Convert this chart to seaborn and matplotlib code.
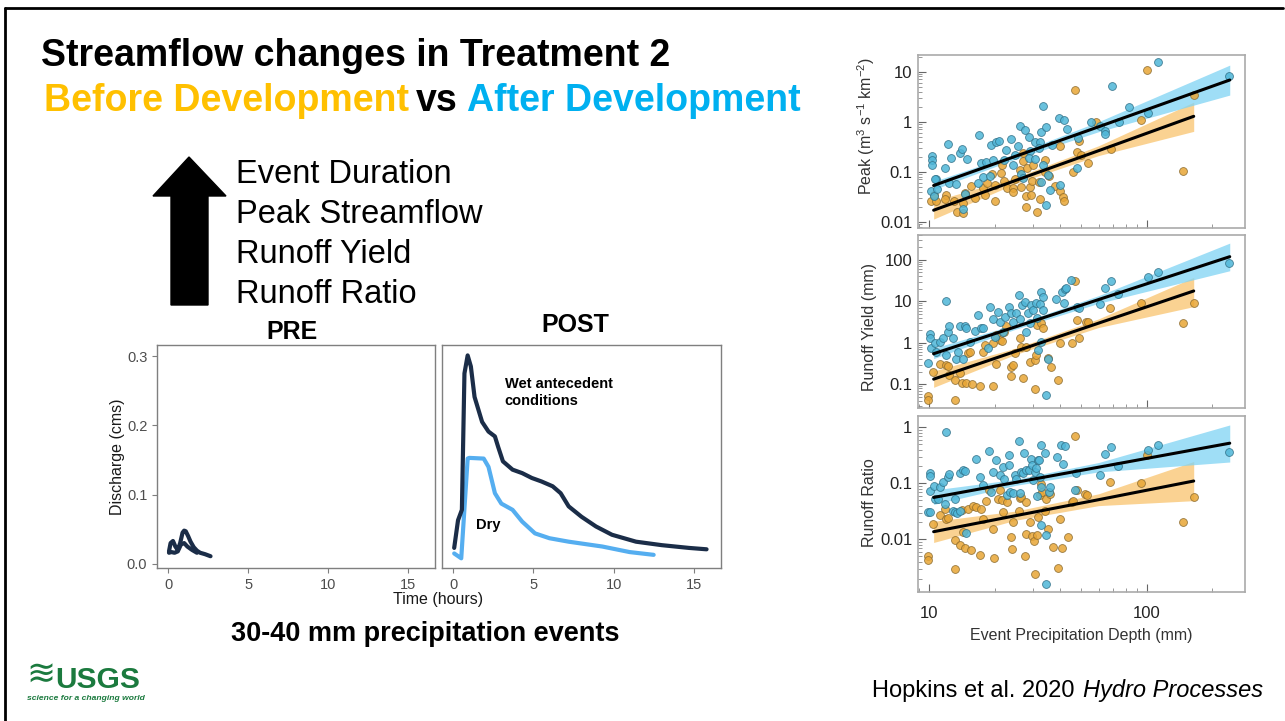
import matplotlib
matplotlib.use("Agg")
import matplotlib.pyplot as plt
import matplotlib.ticker as mticker
from matplotlib.patches import Polygon
import seaborn as sns

sns.set_style("ticks")
plt.rcParams["font.family"] = ["Liberation Sans", "DejaVu Sans"]
plt.rcParams["mathtext.default"] = "regular"
plt.rcParams["text.color"] = "black"

W, H = 1285, 721

# ---- hydrographs (30-40 mm events) ----
pre_a_t = [0.05, 0.15, 0.3, 0.45, 0.6, 0.75, 0.9, 1.0, 1.1, 1.25, 1.4, 1.6, 1.8, 2.0, 2.3, 2.65]
pre_a_q = [0.018, 0.03, 0.033, 0.025, 0.02, 0.03, 0.045, 0.048, 0.047, 0.04, 0.032, 0.024, 0.019, 0.016, 0.014, 0.011]
pre_b_t = [0.05, 0.2, 0.4, 0.6, 0.8, 1.0, 1.2, 1.5, 1.8]
pre_b_q = [0.016, 0.017, 0.016, 0.018, 0.028, 0.03, 0.025, 0.02, 0.016]
wet_t = [0.06, 0.3, 0.54, 0.7, 0.9, 1.1, 1.33, 1.8, 2.2, 2.6, 2.8, 3.1, 3.7, 4.3, 4.9, 5.5,
         6.2, 6.7, 7.2, 8.0, 8.9, 9.9, 11.4, 13.0, 14.7, 15.8]
wet_q = [0.023, 0.063, 0.078, 0.275, 0.301, 0.285, 0.241, 0.205, 0.191, 0.184, 0.169, 0.148, 0.136,
         0.131, 0.124, 0.119, 0.112, 0.102, 0.083, 0.068, 0.054, 0.042, 0.032, 0.027, 0.023, 0.021]
dry_t = [0.06, 0.5, 0.9, 1.0, 1.9, 2.2, 2.6, 3.0, 3.7, 4.3, 5.1, 6.0, 7.2, 9.3, 11.0, 12.5]
dry_q = [0.015, 0.008, 0.152, 0.153, 0.152, 0.14, 0.102, 0.087, 0.078, 0.061, 0.044, 0.037,
         0.032, 0.025, 0.017, 0.013]
hyd_xticks = [0, 5, 10, 15]
hyd_yticks = [0.0, 0.1, 0.2, 0.3]
hyd_ylabels = ["0.0", "0.1", "0.2", "0.3"]

# ---- Hopkins et al. 2020 scatter panels (after = blue, before = orange) ----
peak_after_x = [10.3, 10.3, 10.3, 10.2, 10.5, 10.8, 10.9, 11.9, 12.2, 12.6,
                12.4, 13.3, 13.8, 14.2, 14.6, 14.9, 14.3, 17.0, 17.4, 18.2,
                17.7, 16.8, 19.0, 19.3, 20.2, 20.9, 19.7, 22.1, 22.6, 23.9,
                24.8, 24.3, 25.6, 26.2, 26.5, 27.7, 28.8, 29.2, 28.8, 30.5,
                32.2, 32.8, 33.3, 32.0, 34.5, 30.5, 33.5, 35.8, 35.0, 32.8,
                34.5, 36.7, 39.3, 41.6, 43.0, 48.2, 47.7, 39.8, 27.0, 10.7,
                55.6, 60.7, 64.0, 64.5, 69.3, 74.5, 83.0, 101, 113, 238]
peak_after_y = [0.205, 0.17, 0.138, 0.041, 0.032, 0.072, 0.045, 0.12, 0.36, 0.19,
                0.06, 0.057, 0.24, 0.28, 0.036, 0.18, 0.018, 0.53, 0.15, 0.155,
                0.08, 0.06, 0.081, 0.34, 0.40, 0.41, 0.17, 0.17, 0.27, 0.45,
                0.22, 0.138, 0.33, 0.81, 0.09, 0.67, 0.5, 0.26, 0.19, 0.39,
                0.40, 0.61, 2.05, 0.295, 0.78, 0.176, 0.138, 0.044, 0.087, 0.062,
                0.022, 0.34, 1.2, 1.06, 0.72, 0.48, 0.12, 0.055, 0.075, 0.07,
                0.97, 0.81, 0.64, 0.58, 5.2, 0.99, 2.0, 1.5, 15.8, 8.2]
peak_before_x = [10.2, 10.8, 10.5, 12.0, 11.9, 13.0, 13.4, 14.3, 14.3, 14.6,
                 15.6, 16.2, 17.7, 18.0, 18.5, 19.5, 20.0, 20.0, 21.5, 21.7,
                 22.0, 22.9, 24.8, 24.3, 24.3, 26.5, 26.2, 27.0, 28.2, 29.0,
                 28.0, 27.8, 29.8, 29.5, 30.0, 32.0, 32.2, 31.3, 33.9, 34.2,
                 35.5, 37.7, 39.8, 40.0, 41.2, 41.5, 47.7, 49.9, 45.8, 27.0,
                 46.6, 49.0, 53.6, 58.6, 68.5, 94.0, 100, 146, 164]
peak_before_y = [0.026, 0.026, 0.034, 0.035, 0.028, 0.026, 0.016, 0.015, 0.024, 0.038,
                 0.051, 0.03, 0.047, 0.035, 0.06, 0.09, 0.026, 0.055, 0.094, 0.138,
                 0.064, 0.047, 0.07, 0.048, 0.04, 0.05, 0.109, 0.16, 0.12, 0.049,
                 0.032, 0.0195, 0.064, 0.035, 0.138, 0.062, 0.028, 0.016, 0.1, 0.17,
                 0.083, 0.053, 0.32, 0.041, 0.031, 0.026, 0.245, 0.22, 0.1, 0.235,
                 4.2, 0.41, 0.151, 1.0, 0.29, 1.08, 11.0, 0.105, 3.4]

yield_after_x = [9.9, 10.1, 10.1, 10.2, 10.6, 10.8, 11.2, 11.6, 12.0, 12.2,
                 12.4, 12.9, 13.3, 13.6, 13.8, 14.3, 14.6, 14.8, 15.4, 16.2,
                 16.7, 17.4, 17.7, 18.6, 19.1, 19.7, 20.0, 20.7, 21.2, 21.8,
                 22.4, 23.4, 23.8, 24.3, 25.2, 25.8, 26.2, 26.8, 27.5, 28.5,
                 29.0, 29.5, 30.0, 31.1, 31.3, 32.2, 32.8, 33.3, 33.5, 34.3,
                 35.1, 31.6, 32.8, 28.0, 38.4, 40.9, 42.0, 42.7, 41.5, 44.9,
                 47.6, 12.0, 48.6, 60.7, 64.0, 68.6, 73.7, 101, 112, 238]
yield_after_y = [0.32, 1.6, 1.34, 0.74, 0.97, 0.61, 1.07, 1.29, 10.3, 1.87,
                 2.5, 1.29, 0.42, 0.61, 2.5, 0.42, 2.5, 2.25, 1.07, 1.9,
                 4.7, 2.25, 2.25, 0.74, 7.5, 3.8, 1.4, 5.5, 3.25, 1.87,
                 4.3, 7.5, 5.2, 3.25, 5.2, 14.5, 3.8, 8.2, 9.7, 5.2,
                 3.0, 8.2, 6.2, 9.0, 3.9, 8.5, 16.5, 13.0, 6.2, 0.057,
                 0.42, 0.67, 1.07, 1.87, 11.7, 16.5, 20.0, 20.7, 9.0, 33.0,
                 7.5, 0.51, 6.8, 8.5, 21.5, 31.0, 14.8, 38.0, 52.0, 83.0]
yield_before_x = [9.9, 9.9, 10.4, 11.2, 12.0, 12.2, 12.4, 13.1, 13.1, 13.8,
                  14.1, 14.8, 15.1, 15.8, 15.4, 17.1, 17.7, 18.0, 19.7, 19.7,
                  20.4, 21.2, 21.6, 22.0, 22.6, 23.8, 23.8, 24.7, 26.1, 26.5,
                  27.0, 28.0, 29.0, 30.5, 30.8, 31.1, 31.3, 32.8, 33.5, 35.1,
                  36.4, 39.1, 39.8, 45.4, 47.6, 52.7, 24.3, 20.2, 46.6, 48.6,
                  53.6, 68.0, 94.0, 146, 164]
yield_before_y = [0.053, 0.042, 0.20, 0.31, 0.29, 0.28, 0.168, 0.127, 0.041, 0.185,
                  0.11, 0.11, 0.56, 0.105, 0.61, 0.093, 0.61, 0.89, 0.093, 0.97,
                  1.55, 1.18, 1.13, 1.87, 2.55, 0.26, 0.16, 0.56, 1.29, 0.81,
                  0.14, 0.81, 0.35, 0.077, 0.38, 0.51, 2.7, 2.95, 2.25, 0.44,
                  0.26, 0.127, 0.97, 0.97, 3.5, 3.25, 0.29, 0.31, 31.0, 1.33,
                  3.25, 7.1, 9.0, 2.96, 9.3]

ratio_after_x = [10.1, 10.1, 9.9, 10.1, 10.1, 10.5, 10.6, 11.0, 11.2, 11.6,
                 11.9, 12.2, 12.4, 12.9, 13.1, 13.2, 13.5, 13.8, 13.8, 14.3,
                 14.6, 14.8, 16.5, 17.1, 17.7, 18.9, 19.3, 19.7, 20.4, 21.2,
                 21.8, 22.0, 22.8, 23.2, 23.4, 23.6, 24.3, 24.7, 25.2, 25.8,
                 26.1, 26.5, 27.0, 27.3, 28.0, 28.8, 29.5, 29.8, 30.0, 30.8,
                 31.1, 31.3, 31.6, 32.0, 32.2, 32.5, 32.8, 32.8, 33.9, 34.5,
                 35.5, 35.8, 38.7, 40.5, 41.2, 42.0, 47.4, 34.3, 12.0, 47.0,
                 64.0, 60.7, 68.6, 73.7, 101, 112, 238]
ratio_after_y = [0.155, 0.135, 0.031, 0.031, 0.072, 0.09, 0.052, 0.052, 0.086, 0.106,
                 0.043, 0.13, 0.147, 0.032, 0.052, 0.031, 0.03, 0.15, 0.032, 0.17,
                 0.165, 0.013, 0.275, 0.128, 0.092, 0.37, 0.07, 0.16, 0.265, 0.14,
                 0.195, 0.12, 0.063, 0.215, 0.315, 0.07, 0.066, 0.14, 0.12, 0.56,
                 0.066, 0.16, 0.15, 0.35, 0.17, 0.17, 0.275, 0.21, 0.113, 0.16,
                 0.19, 0.06, 0.265, 0.26, 0.13, 0.49, 0.086, 0.018, 0.35, 0.0118,
                 0.07, 0.086, 0.30, 0.48, 0.225, 0.46, 0.155, 0.0016, 0.82, 0.075,
                 0.34, 0.14, 0.45, 0.2, 0.39, 0.48, 0.36]
ratio_before_x = [9.9, 9.9, 10.4, 11.2, 11.9, 12.0, 12.2, 13.1, 13.8, 14.1,
                  14.6, 14.3, 15.1, 15.6, 15.9, 16.5, 17.1, 17.4, 17.7, 18.2,
                  18.9, 19.7, 19.8, 20.7, 21.2, 21.6, 22.8, 23.8, 24.1, 24.3,
                  25.8, 26.1, 26.5, 27.5, 27.8, 28.0, 29.0, 29.8, 30.2, 31.3,
                  31.6, 32.2, 32.8, 33.1, 33.9, 34.5, 35.1, 35.8, 37.1, 39.1,
                  39.8, 40.9, 45.4, 47.6, 51.8, 43.4, 30.8, 13.1, 21.8,
                  46.6, 53.3, 45.7, 68.0, 94.0, 100, 146, 164]
ratio_before_y = [0.005, 0.0042, 0.019, 0.027, 0.035, 0.023, 0.024, 0.0096, 0.0078, 0.034,
                  0.007, 0.0135, 0.035, 0.0064, 0.039, 0.038, 0.0052, 0.035, 0.023, 0.048,
                  0.075, 0.015, 0.0047, 0.053, 0.075, 0.05, 0.046, 0.011, 0.0068, 0.02,
                  0.032, 0.055, 0.057, 0.005, 0.0125, 0.046, 0.02, 0.0115, 0.0095, 0.012,
                  0.025, 0.061, 0.098, 0.07, 0.032, 0.052, 0.0152, 0.065, 0.0074, 0.0031,
                  0.023, 0.0071, 0.046, 0.075, 0.064, 0.011, 0.0024, 0.0029, 0.031,
                  0.70, 0.062, 0.049, 0.107, 0.1, 0.32, 0.0207, 0.058]

# fitted log-log regressions with confidence bands (read at four depths)
fit_after_x = [10.5, 25, 60, 240]
fit_before_x = [10.5, 25, 60, 164]
peak_fit_after = [0.053, 0.204, 0.79, 6.8]
peak_lo_after = [0.044, 0.18, 0.63, 3.4]
peak_hi_after = [0.064, 0.23, 1.0, 13.5]
peak_fit_before = [0.017, 0.067, 0.263, 1.28]
peak_lo_before = [0.0113, 0.058, 0.21, 0.64]
peak_hi_before = [0.026, 0.077, 0.33, 2.45]
yield_fit_after = [0.55, 2.45, 11.1, 120]
yield_lo_after = [0.42, 2.15, 9.0, 55]
yield_hi_after = [0.75, 2.8, 13.8, 255]
yield_fit_before = [0.134, 0.63, 3.0, 17.9]
yield_lo_before = [0.085, 0.53, 2.35, 7.5]
yield_hi_before = [0.21, 0.75, 3.8, 38]
ratio_fit_after = [0.056, 0.104, 0.194, 0.52]
ratio_lo_after = [0.042, 0.092, 0.16, 0.24]
ratio_hi_after = [0.076, 0.118, 0.235, 1.1]
ratio_fit_before = [0.0137, 0.0265, 0.051, 0.11]
ratio_lo_before = [0.0088, 0.022, 0.04, 0.049]
ratio_hi_before = [0.021, 0.032, 0.065, 0.245]

peak_ticks, peak_labels = [0.01, 0.1, 1, 10], ["0.01", "0.1", "1", "10"]
yield_ticks, yield_labels = [0.1, 1, 10, 100], ["0.1", "1", "10", "100"]
ratio_ticks, ratio_labels = [0.01, 0.1, 1], ["0.01", "0.1", "1"]
depth_ticks, depth_labels = [10, 100], ["10", "100"]

bullets = ["Event Duration", "Peak Streamflow", "Runoff Yield", "Runoff Ratio"]

NAVY, LIGHT = "#1b2d48", "#55aef0"
BLUE_PT, ORANGE_PT = "#4fb6d8", "#e8a636"
BLUE_BAND, ORANGE_BAND = "#7fd3f3", "#f9c46e"
USGS_GREEN = "#1b7a3e"


def px_rect(l, t, r, b):
    return [l / W, 1 - b / H, (r - l) / W, (b - t) / H]


fig = plt.figure(figsize=(W / 100, H / 100), dpi=100)

# slide layer (text, arrow, frame) in pixel coordinates
bg = fig.add_axes([0, 0, 1, 1])
bg.set_xlim(0, W); bg.set_ylim(H, 0); bg.axis("off")
bg.plot([5, 1283], [8, 8], color="black", lw=2)
bg.plot([5, 5], [8, H], color="black", lw=2)
bg.text(41, 66, "Streamflow changes in Treatment 2", fontsize=27, weight="bold", va="baseline")
bg.text(44, 111, "Before Development", fontsize=27, weight="bold", color="#FFC000", va="baseline")
bg.text(416, 111, "vs", fontsize=27, weight="bold", color="black", va="baseline")
bg.text(467, 111, "After Development", fontsize=27, weight="bold", color="#00B0F0", va="baseline")
bg.add_patch(Polygon([(171, 305), (171, 196), (153, 196), (189, 157), (226, 196), (208, 196), (208, 305)],
                     closed=True, color="black"))
for i, b in enumerate(bullets):
    bg.text(236, 183 + 40 * i, b, fontsize=23.5, va="baseline")
bg.text(292, 339, "PRE", fontsize=18, weight="bold", ha="center", va="baseline")
bg.text(575, 332, "POST", fontsize=18, weight="bold", ha="center", va="baseline")
bg.text(438, 604, "Time (hours)", fontsize=11.5, ha="center", va="baseline", color="#1a1a1a")
bg.text(425, 641, "30-40 mm precipitation events", fontsize=19.5, weight="bold", ha="center", va="baseline")
bg.text(872, 697, "Hopkins et al. 2020 ", fontsize=17, va="baseline")
bg.text(1083, 697, "Hydro Processes", fontsize=17, style="italic", va="baseline")
# USGS identifier
bg.text(41, 685, "≋", fontsize=25, color=USGS_GREEN, ha="center", va="baseline", family="DejaVu Sans")
bg.text(55, 688, "USGS", fontsize=21.5, weight="bold", color=USGS_GREEN, va="baseline")
bg.text(27, 700, "science for a changing world", fontsize=6.1, weight="bold", style="italic",
        color=USGS_GREEN, va="baseline")

# hydrographs
ax_pre = fig.add_axes(px_rect(157, 345, 435, 568))
ax_post = fig.add_axes(px_rect(442, 345, 721, 568), sharey=ax_pre)
sns.lineplot(x=pre_a_t, y=pre_a_q, sort=False, estimator=None, color=NAVY, lw=3, ax=ax_pre)
sns.lineplot(x=pre_b_t, y=pre_b_q, sort=False, estimator=None, color=NAVY, lw=3, ax=ax_pre)
sns.lineplot(x=dry_t, y=dry_q, sort=False, estimator=None, color=LIGHT, lw=3, ax=ax_post)
sns.lineplot(x=wet_t, y=wet_q, sort=False, estimator=None, color=NAVY, lw=3, ax=ax_post)
for ax in (ax_pre, ax_post):
    ax.set_xlim(-0.7, 16.7)
    ax.set_xticks(hyd_xticks)
    ax.tick_params(labelsize=10.5, labelcolor="#4d4d4d", color="#7f7f7f", length=3.5, width=0.8)
    for s in ax.spines.values():
        s.set_visible(True); s.set_color("#7f7f7f"); s.set_linewidth(1)
    ax.set_xlabel("")
ax_pre.set_ylim(-0.006, 0.316)
ax_pre.set_yticks(hyd_yticks)
ax_pre.set_yticklabels(hyd_ylabels)
ax_pre.set_ylabel("Discharge (cms)", fontsize=11.5, color="#1a1a1a")
ax_pre.yaxis.set_label_coords(-0.115, 0.5)
ax_post.tick_params(left=False, labelleft=False)
ax_post.text(3.2, 0.27, "Wet antecedent\nconditions", fontsize=10.5, weight="bold", va="top", linespacing=1.3)
ax_post.text(1.42, 0.05, "Dry", fontsize=10.5, weight="bold", va="baseline")

# scatter panels
panels = [
    ((918, 55, 1245, 228), (0.0075, 21.5), peak_ticks, peak_labels, "Peak (m$^3$ s$^{-1}$ km$^{-2}$)", 0.59,
     peak_after_x, peak_after_y, peak_before_x, peak_before_y,
     peak_fit_after, peak_lo_after, peak_hi_after, peak_fit_before, peak_lo_before, peak_hi_before),
    ((918, 235, 1245, 408), (0.027, 400), yield_ticks, yield_labels, "Runoff Yield (mm)", 0.47,
     yield_after_x, yield_after_y, yield_before_x, yield_before_y,
     yield_fit_after, yield_lo_after, yield_hi_after, yield_fit_before, yield_lo_before, yield_hi_before),
    ((918, 416, 1245, 592), (0.00115, 1.59), ratio_ticks, ratio_labels, "Runoff Ratio", 0.51,
     ratio_after_x, ratio_after_y, ratio_before_x, ratio_before_y,
     ratio_fit_after, ratio_lo_after, ratio_hi_after, ratio_fit_before, ratio_lo_before, ratio_hi_before),
]
for k, (box, ylim, yt, yl, lab, ly, ax_x, ax_y, bx_x, bx_y, fa, la, ha, fb, lb, hb) in enumerate(panels):
    ax = fig.add_axes(px_rect(*box))
    ax.set_xscale("log"); ax.set_yscale("log")
    ax.fill_between(fit_before_x, lb, hb, color=ORANGE_BAND, alpha=0.75, lw=0, zorder=1)
    ax.fill_between(fit_after_x, la, ha, color=BLUE_BAND, alpha=0.75, lw=0, zorder=1)
    sns.scatterplot(x=bx_x, y=bx_y, color=ORANGE_PT, edgecolor="#8a6a2e", s=32, linewidth=0.6,
                    alpha=0.85, ax=ax, zorder=2)
    sns.scatterplot(x=ax_x, y=ax_y, color=BLUE_PT, edgecolor="#2f6f86", s=32, linewidth=0.6,
                    alpha=0.85, ax=ax, zorder=2)
    sns.lineplot(x=fit_before_x, y=fb, color="black", lw=2.2, ax=ax, zorder=3)
    sns.lineplot(x=fit_after_x, y=fa, color="black", lw=2.2, ax=ax, zorder=3)
    ax.set_xlim(8.9, 282); ax.set_ylim(*ylim)
    ax.yaxis.set_major_locator(mticker.FixedLocator(yt))
    ax.yaxis.set_major_formatter(mticker.FixedFormatter(yl))
    ax.yaxis.set_minor_locator(mticker.LogLocator(subs=range(2, 10)))
    ax.yaxis.set_minor_formatter(mticker.NullFormatter())
    ax.xaxis.set_major_locator(mticker.FixedLocator(depth_ticks))
    ax.xaxis.set_major_formatter(mticker.FixedFormatter(depth_labels))
    ax.xaxis.set_minor_locator(mticker.LogLocator(subs=range(2, 10)))
    ax.xaxis.set_minor_formatter(mticker.NullFormatter())
    ax.tick_params(which="major", direction="in", length=6, width=0.8, color="#666666",
                   labelsize=12, labelcolor="#222222", pad=4)
    ax.tick_params(which="minor", direction="in", length=3, width=0.6, color="#888888")
    ax.tick_params(axis="x", which="major", pad=10)
    for s in ax.spines.values():
        s.set_visible(True); s.set_color("#aaaaaa"); s.set_linewidth(1.2)
    ax.set_ylabel(lab, fontsize=11.5, color="#333333")
    ax.yaxis.set_label_coords(-0.125, ly)
    if k < 2:
        ax.tick_params(axis="x", labelbottom=False)
        ax.set_xlabel("")
    else:
        ax.set_xlabel("Event Precipitation Depth (mm)", fontsize=11.5, color="#333333", labelpad=5)

fig.savefig("out.png", dpi=100)
